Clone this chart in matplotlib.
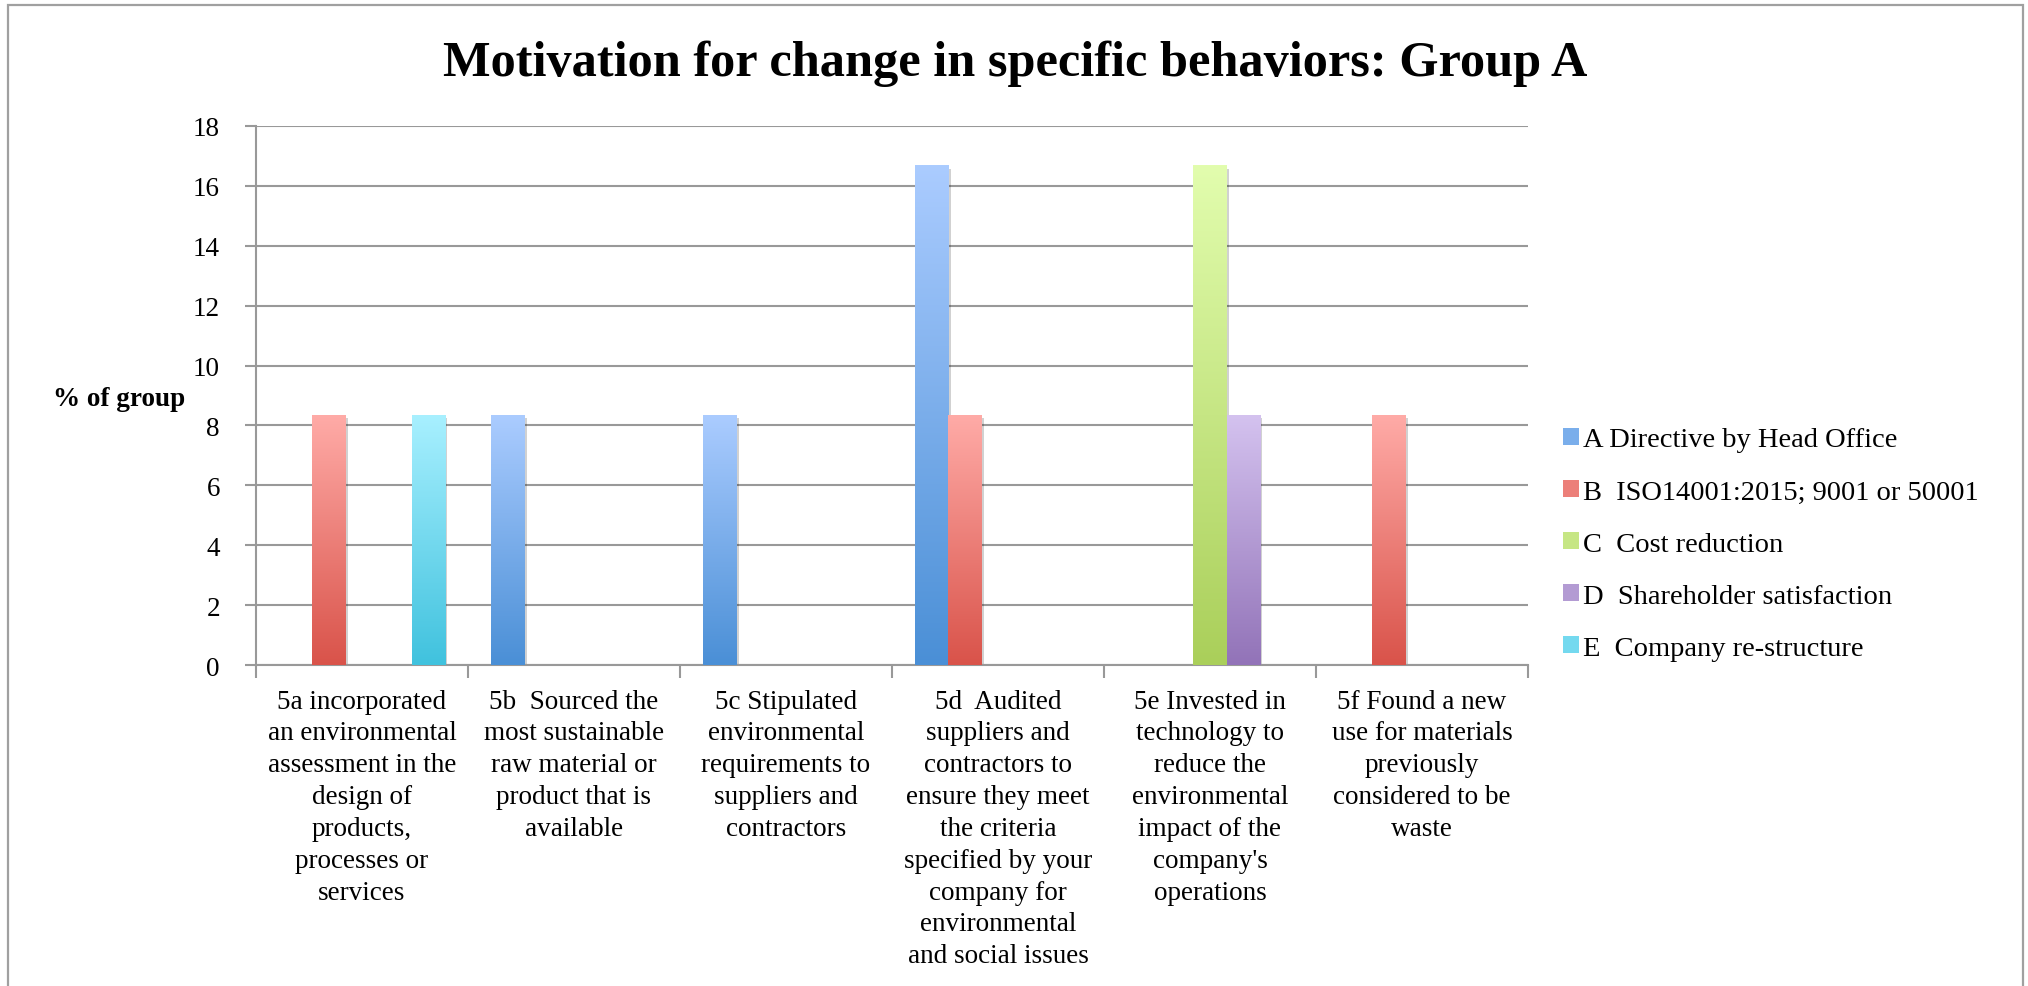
import matplotlib

matplotlib.use("Agg")

import matplotlib.pyplot as plt
import numpy as np
from matplotlib import patheffects
from matplotlib.colors import LinearSegmentedColormap, to_rgb
from matplotlib.patches import Patch, Rectangle

CATEGORIES = [
    "5a incorporated\nan environmental\nassessment in the\ndesign of\nproducts,\nprocesses or\nservices",
    "5b  Sourced the\nmost sustainable\nraw material or\nproduct that is\navailable",
    "5c Stipulated\nenvironmental\nrequirements to\nsuppliers and\ncontractors",
    "5d  Audited\nsuppliers and\ncontractors to\nensure they meet\nthe criteria\nspecified by your\ncompany for\nenvironmental\nand social issues",
    "5e Invested in\ntechnology to\nreduce the\nenvironmental\nimpact of the\ncompany's\noperations",
    "5f Found a new\nuse for materials\npreviously\nconsidered to be\nwaste",
]

SERIES = [
    "A Directive by Head Office",
    "B  ISO14001:2015; 9001 or 50001",
    "C  Cost reduction",
    "D  Shareholder satisfaction",
    "E  Company re-structure",
]

# % of group, one list per motivation
A_DIRECTIVE = [0, 8.33, 8.33, 16.67, 0, 0]
B_ISO = [8.33, 0, 0, 8.33, 0, 8.33]
C_COST = [0, 0, 0, 0, 16.67, 0]
D_SHAREHOLDER = [0, 0, 0, 0, 8.33, 0]
E_RESTRUCTURE = [8.33, 0, 0, 0, 0, 0]

VALUES = [A_DIRECTIVE, B_ISO, C_COST, D_SHAREHOLDER, E_RESTRUCTURE]

# (bottom, top) colours of the vertical gradient fill
GRADIENTS = [
    ("#4a8fd6", "#abccff"),
    ("#d9534a", "#ffaba7"),
    ("#aacf5a", "#e2fdae"),
    ("#9273b8", "#d4c2ef"),
    ("#40c2de", "#a8f0ff"),
]

GRID_COLOR = "#999999"
FONT = ["Liberation Serif", "DejaVu Serif"]

plt.rcParams["font.family"] = FONT

fig = plt.figure(figsize=(20.28, 9.87), dpi=100)
ax = fig.add_axes([256 / 2028, 1 - 666 / 987, (1528 - 256) / 2028, (666 - 127) / 987])

n_series = len(VALUES)
width = 0.156
x = np.arange(len(CATEGORIES))
ramp = np.linspace(0, 1, 256).reshape(-1, 1)

for i, (vals, (c_bot, c_top)) in enumerate(zip(VALUES, GRADIENTS)):
    offset = (i - (n_series - 1) / 2) * width
    cmap = LinearSegmentedColormap.from_list(f"grad{i}", [c_bot, c_top])
    bars = ax.bar(x + offset, vals, width, color=c_bot, linewidth=0, zorder=2)
    for bar in bars:
        h = bar.get_height()
        if h <= 0:
            continue
        bar.set_path_effects(
            [patheffects.SimplePatchShadow(offset=(2, -2), alpha=0.18, shadow_rgbFace="k")]
        )
        x0 = bar.get_x()
        ax.imshow(
            ramp,
            cmap=cmap,
            origin="lower",
            extent=[x0, x0 + bar.get_width(), 0, h],
            aspect="auto",
            interpolation="bilinear",
            zorder=3,
        )

ax.set_xlim(-0.5, len(CATEGORIES) - 0.5)
ax.set_ylim(0, 18)
ax.set_yticks(range(0, 19, 2))

ax.set_xticks(x)
ax.set_xticklabels(CATEGORIES, fontsize=19.5, linespacing=1.36, va="top")
ax.set_xticks(np.arange(len(CATEGORIES) + 1) - 0.5, minor=True)
ax.tick_params(axis="x", which="major", length=0, pad=17)
ax.tick_params(axis="x", which="minor", length=9, width=1.5, color=GRID_COLOR, direction="out")
ax.tick_params(axis="y", length=8, width=1.5, color=GRID_COLOR, labelsize=19.5, pad=18)

ax.grid(axis="y", color=GRID_COLOR, linewidth=1.5, zorder=0)
ax.set_axisbelow(True)
for side in ("top", "right"):
    ax.spines[side].set_visible(False)
for side in ("left", "bottom"):
    ax.spines[side].set_color(GRID_COLOR)
    ax.spines[side].set_linewidth(1.5)

fig.text(
    1015 / 2028,
    1 - 64 / 987,
    "Motivation for change in specific behaviors: Group A",
    ha="center",
    va="center",
    fontsize=36.3,
    fontweight="bold",
)
fig.text(53 / 2028, 1 - 400 / 987, "% of group", ha="left", va="center", fontsize=19.5, fontweight="bold")

handles = [
    Patch(facecolor=np.mean([to_rgb(b), to_rgb(t)], axis=0), edgecolor="none")
    for b, t in GRADIENTS
]
fig.legend(
    handles,
    SERIES,
    loc="center left",
    bbox_to_anchor=(1563 / 2028, 1 - 545 / 987),
    frameon=False,
    fontsize=20.5,
    handlelength=0.55,
    handleheight=0.55,
    handletextpad=0.15,
    labelspacing=0.95,
    borderpad=0,
    borderaxespad=0,
)

# frame around the whole chart, open at the bottom edge
fig.add_artist(
    Rectangle(
        (8 / 2028, -0.1),
        (2023 - 8) / 2028,
        1.1 - 6 / 987,
        transform=fig.transFigure,
        fill=False,
        edgecolor="#a0a0a0",
        linewidth=1.6,
    )
)

fig.savefig("out.png", dpi=100)
